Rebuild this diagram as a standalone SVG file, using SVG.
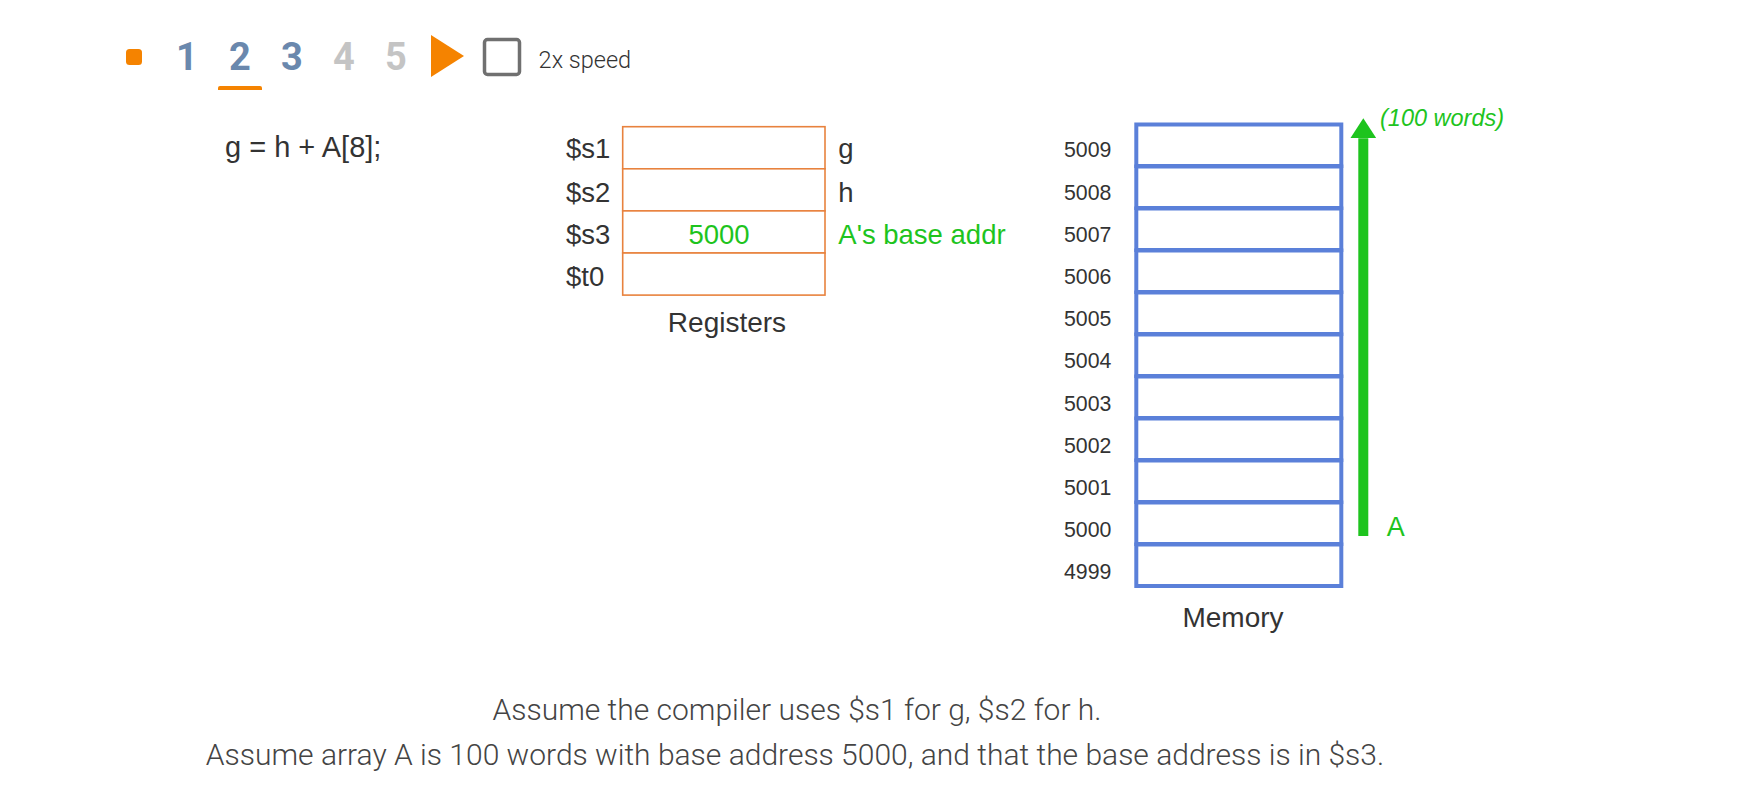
<svg xmlns="http://www.w3.org/2000/svg" width="1756" height="802" viewBox="0 0 1756 802">
<style>
.num{font-family:Roboto,"Liberation Sans",sans-serif;font-weight:700;font-size:38px;text-anchor:middle}
.on{fill:#6a88ad}
.off{fill:#c4c4c4}
.lbl{font-family:"Liberation Sans",Arial,sans-serif;font-size:27.5px;fill:#333}
.grn{fill:#1ec41e}
.addr{font-family:"Liberation Sans",Arial,sans-serif;font-size:21.3px;fill:#333}
.reg{fill:#fff;stroke:#e8823e;stroke-width:1.6}
.mem{fill:#fff;stroke:#5b80d9;stroke-width:4}
.note{font-family:Roboto,"Liberation Sans",sans-serif;font-weight:300;font-size:30px;fill:#444;text-anchor:middle}
</style>
<defs>
<marker id="ah" viewBox="0 0 20 26" refX="0" refY="13" markerWidth="20" markerHeight="26" markerUnits="userSpaceOnUse" orient="auto">
<path d="M0 0 L20 13 L0 26 Z" fill="#1ec41e"/>
</marker>
</defs>
<rect width="1756" height="802" fill="#fff"/>
<g id="controls">
<rect x="126" y="49" width="16" height="16" rx="3.5" fill="#f58300"/>
<text class="num on" x="187" y="70">1</text>
<text class="num on" x="240" y="70">2</text>
<text class="num on" x="292" y="70">3</text>
<text class="num off" x="344" y="70">4</text>
<text class="num off" x="396" y="70">5</text>
<path d="M220 86 L260 86 Q262 86 262 88 L262 90 L218 90 L218 88 Q218 86 220 86 Z" fill="#f58300"/>
<path d="M431 35 L464 56 L431 77 Z" fill="#f58300"/>
<rect x="484.5" y="39.5" width="35" height="35" rx="3" fill="none" stroke="#707070" stroke-width="3.5"/>
<text x="538.6" y="67.5" style="font-family:Roboto,'Liberation Sans',sans-serif;font-weight:300;font-size:23.5px;fill:#333">2x speed</text>
</g>
<g id="code">
<text class="lbl" x="225" y="156.7" style="font-size:29px">g = h + A[8];</text>
</g>
<g id="registers">
<g id="reg-s1"><rect class="reg" x="622.7" y="126.7" width="202.3" height="42.1"/><text class="lbl" x="566" y="158.3">$s1</text><text class="lbl" x="838.3" y="158.3">g</text></g>
<g id="reg-s2"><rect class="reg" x="622.7" y="168.8" width="202.3" height="42.1"/><text class="lbl" x="566" y="201.5">$s2</text><text class="lbl" x="838.3" y="201.5">h</text></g>
<g id="reg-s3"><rect class="reg" x="622.7" y="210.9" width="202.3" height="42.1"/><text class="lbl" x="566" y="243.8">$s3</text><text class="lbl grn" x="719" y="243.8" text-anchor="middle">5000</text><text class="lbl grn" x="838.3" y="243.8">A's base addr</text></g>
<g id="reg-t0"><rect class="reg" x="622.7" y="253" width="202.3" height="42.1"/><text class="lbl" x="566" y="286.2">$t0</text></g>
<text class="lbl" x="727" y="332" text-anchor="middle" style="font-size:28px">Registers</text>
</g>
<g id="memory">
<g id="mem-5009"><rect class="mem" x="1136.3" y="124.5" width="205" height="41.5"/><text class="addr" x="1064" y="157.3">5009</text></g>
<g id="mem-5008"><rect class="mem" x="1136.3" y="166.5" width="205" height="41.5"/><text class="addr" x="1064" y="199.5">5008</text></g>
<g id="mem-5007"><rect class="mem" x="1136.3" y="208.5" width="205" height="41.5"/><text class="addr" x="1064" y="241.7">5007</text></g>
<g id="mem-5006"><rect class="mem" x="1136.3" y="250.5" width="205" height="41.5"/><text class="addr" x="1064" y="283.9">5006</text></g>
<g id="mem-5005"><rect class="mem" x="1136.3" y="292.5" width="205" height="41.5"/><text class="addr" x="1064" y="326.1">5005</text></g>
<g id="mem-5004"><rect class="mem" x="1136.3" y="334.5" width="205" height="41.5"/><text class="addr" x="1064" y="368.3">5004</text></g>
<g id="mem-5003"><rect class="mem" x="1136.3" y="376.5" width="205" height="41.5"/><text class="addr" x="1064" y="410.5">5003</text></g>
<g id="mem-5002"><rect class="mem" x="1136.3" y="418.5" width="205" height="41.5"/><text class="addr" x="1064" y="452.7">5002</text></g>
<g id="mem-5001"><rect class="mem" x="1136.3" y="460.5" width="205" height="41.5"/><text class="addr" x="1064" y="494.9">5001</text></g>
<g id="mem-5000"><rect class="mem" x="1136.3" y="502.5" width="205" height="41.5"/><text class="addr" x="1064" y="537.1">5000</text></g>
<g id="mem-4999"><rect class="mem" x="1136.3" y="544.5" width="205" height="41.5"/><text class="addr" x="1064" y="579.3">4999</text></g>
<text class="lbl" x="1233" y="627" text-anchor="middle" style="font-size:28px">Memory</text>
</g>
<g id="connectors">
<line x1="1363.3" y1="536" x2="1363.3" y2="138.3" stroke="#1ec41e" stroke-width="10" marker-end="url(#ah)"/>
</g>
<g id="array-labels">
<text class="lbl grn" x="1380" y="126" style="font-style:italic;font-size:23.5px">(100 words)</text>
<text class="lbl grn" x="1386.7" y="536" style="font-size:27px">A</text>
</g>
<g id="notes">
<text class="note" x="797" y="720">Assume the compiler uses $s1 for g, $s2 for h.</text>
<text class="note" x="795" y="765">Assume array A is 100 words with base address 5000, and that the base address is in $s3.</text>
</g>
</svg>
